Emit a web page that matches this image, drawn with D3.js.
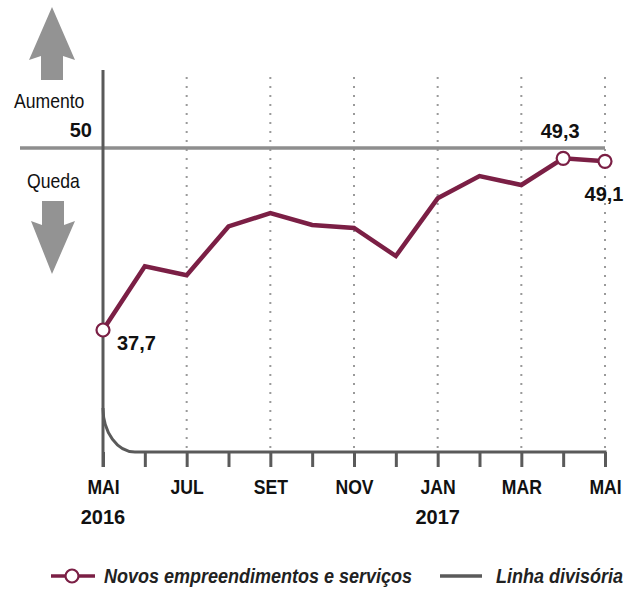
<!DOCTYPE html>
<html>
<head>
<meta charset="utf-8">
<script src="https://cdn.jsdelivr.net/npm/d3@7"></script>
<style>
  body { margin: 0; background: #fff; }
  svg { display: block; font-family: "Liberation Sans", Arial, sans-serif; }
  .axis text { font-weight: bold; font-size: 20px; fill: #111; font-family: "Liberation Sans", Arial, sans-serif; }
</style>
</head>
<body>
<svg id="chart"></svg>
<script>
// months from May 2016 to May 2017
const months = ["MAI16", "JUN", "JUL", "AGO", "SET", "OUT", "NOV", "DEZ", "JAN", "FEV", "MAR", "ABR", "MAI17"];
const tickLabels = ["MAI", "", "JUL", "", "SET", "", "NOV", "", "JAN", "", "MAR", "", "MAI"];
const yearLabels = [["MAI16", "2016"], ["JAN", "2017"]];
const values = [37.7, 42.0, 41.4, 44.7, 45.6, 44.8, 44.6, 42.7, 46.6, 48.1, 47.5, 49.3, 49.1];
const gridMonths = ["JUL", "SET", "NOV", "JAN", "MAR", "MAI17"];
const divider = 50;
// labelled points: [month, text, dx, dy, anchor]
const pointLabels = [["MAI16", "37,7", 14, 20, "start"], ["ABR", "49,3", -3, -20, "middle"], ["MAI17", "49,1", -1, 40, "middle"]];

const width = 638, height = 589;
const color = "#7b1f45";
const axisColor = "#5a5a5a";
const lineGray = "#8e8e8e";
const arrowGray = "#939393";
const squeeze = 0.88; // narrow-font look for letters

const svg = d3.select("#chart")
  .attr("width", width)
  .attr("height", height);

// text placed at (tx, ty), optionally squeezed horizontally
const label = (parent, tx, ty, str, size, opts = {}) => parent.append("text")
  .attr("transform", `translate(${tx},${ty}) scale(${opts.sx || 1},1)`)
  .attr("font-size", size)
  .attr("font-weight", opts.bold ? "bold" : null)
  .attr("font-style", opts.italic ? "italic" : null)
  .attr("text-anchor", opts.anchor || "start")
  .attr("fill", opts.fill || "#111")
  .text(str);

const x = d3.scalePoint()
  .domain(months)
  .range([103, 605]);

const y = d3.scaleLinear()
  .domain([37.7, 50])
  .range([330, 148]);

const baseY = 452;

// dotted grid
svg.append("g")
  .selectAll("line")
  .data(gridMonths)
  .enter().append("line")
  .attr("x1", d => x(d)).attr("x2", d => x(d))
  .attr("y1", 77).attr("y2", baseY - 3)
  .attr("stroke", "#9a9a9a")
  .attr("stroke-width", 2)
  .attr("stroke-dasharray", "2,7");

// divider line at 50
svg.append("line")
  .attr("x1", 20).attr("x2", x("MAI17"))
  .attr("y1", y(divider)).attr("y2", y(divider))
  .attr("stroke", lineGray)
  .attr("stroke-width", 3.5);

// bottom axis
const xAxis = g => g
  .attr("transform", `translate(0,${baseY})`)
  .attr("class", "axis")
  .call(d3.axisBottom(x).tickSize(15).tickPadding(13).tickFormat((d, i) => tickLabels[i]))
  .call(g => g.select(".domain").remove())
  .call(g => g.selectAll(".tick line").attr("stroke", axisColor).attr("stroke-width", 3))
  .call(g => g.selectAll(".tick text").attr("transform", `scale(${squeeze},1)`));

svg.append("g").call(xAxis);

// axis baseline with rounded corner into the vertical axis
const x0 = x("MAI16");
svg.append("path")
  .attr("d", `M${x0},408 A32,44 0 0 0 ${x0 + 32},${baseY} L${x("MAI17") + 1.5},${baseY}`)
  .attr("fill", "none")
  .attr("stroke", axisColor)
  .attr("stroke-width", 3);

// vertical axis
svg.append("line")
  .attr("x1", x0).attr("x2", x0)
  .attr("y1", 70).attr("y2", baseY + 15)
  .attr("stroke", axisColor)
  .attr("stroke-width", 3);

// year labels
yearLabels.forEach(d => label(svg, x(d[0]), 524, d[1], 20, {bold: true, anchor: "middle"}));

// arrows + side labels
svg.append("path")
  .attr("d", "M52,7 L75,60 L63,56 L63,80 L41,80 L41,56 L29,60 Z")
  .attr("fill", arrowGray);
svg.append("path")
  .attr("d", "M42,201 L64,201 L64,225 L75,221 L52,274 L31,221 L42,225 Z")
  .attr("fill", arrowGray);

label(svg, 14, 108, "Aumento", 20, {sx: squeeze});
label(svg, 92, 137, divider, 20, {bold: true, anchor: "end"});
label(svg, 27, 188, "Queda", 20, {sx: squeeze});

// series
const line = d3.line()
  .x((d, i) => x(months[i]))
  .y(d => y(d));

svg.append("path")
  .datum(values)
  .attr("fill", "none")
  .attr("stroke", color)
  .attr("stroke-width", 4.5)
  .attr("stroke-linejoin", "miter")
  .attr("d", line);

svg.append("g")
  .selectAll("circle")
  .data(pointLabels.map(p => p[0]))
  .enter().append("circle")
  .attr("cx", d => x(d))
  .attr("cy", d => y(values[months.indexOf(d)]))
  .attr("r", 6.5)
  .attr("fill", "#fff")
  .attr("stroke", color)
  .attr("stroke-width", 2.2);

pointLabels.forEach(d => {
  const v = values[months.indexOf(d[0])];
  label(svg, x(d[0]) + d[2], y(v) + d[3], d[1], 20, {bold: true, anchor: d[4]});
});

// legend
const legend = svg.append("g").attr("transform", "translate(0,576)");
legend.append("line").attr("x1", 51).attr("x2", 95).attr("stroke", color).attr("stroke-width", 3.5);
legend.append("circle").attr("cx", 72).attr("r", 6.5).attr("fill", "#fff").attr("stroke", color).attr("stroke-width", 2.2);
label(legend, 104, 7, "Novos empreendimentos e serviços", 20, {bold: true, italic: true, fill: "#222", sx: 0.9});
legend.append("line").attr("x1", 440).attr("x2", 482).attr("stroke", axisColor).attr("stroke-width", 3.5);
label(legend, 496, 7, "Linha divisória", 20, {bold: true, italic: true, fill: "#222", sx: 0.9});
</script>
</body>
</html>
